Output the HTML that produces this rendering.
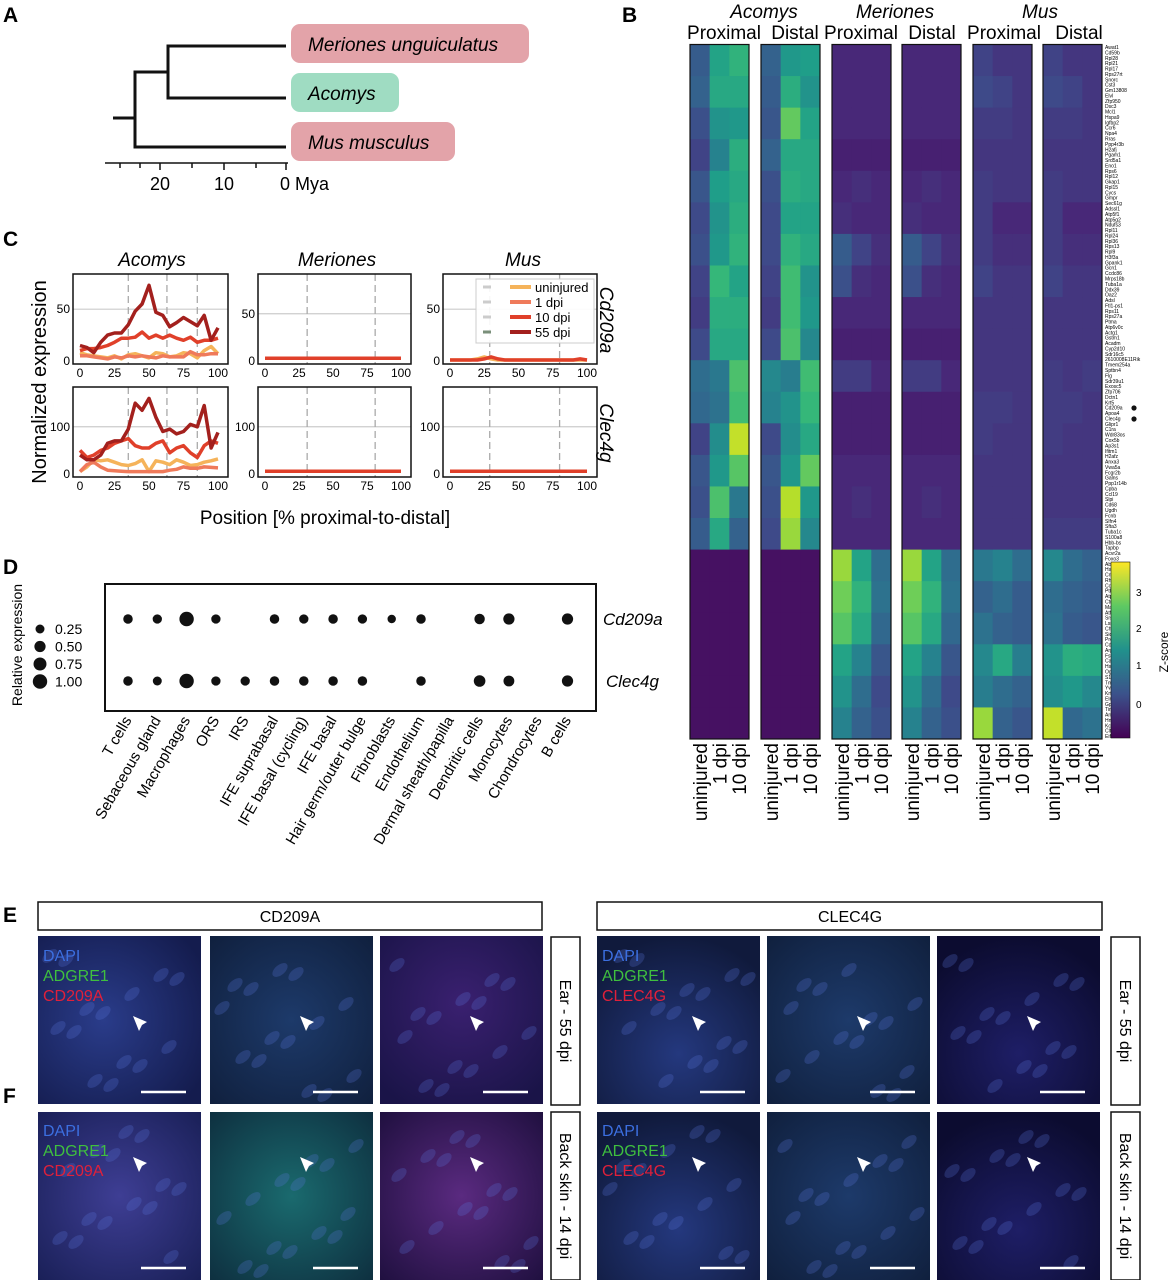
<!DOCTYPE html>
<html><head><meta charset="utf-8"><style>
html,body{margin:0;padding:0;background:#fff}
svg{display:block;font-family:"Liberation Sans",sans-serif}
</style></head><body>
<svg id="fig" width="1176" height="1280" viewBox="0 0 1176 1280" xmlns="http://www.w3.org/2000/svg">
<defs>
<radialGradient id="gE1" cx="0.4" cy="0.5" r="0.7"><stop offset="0" stop-color="#2a3c8a"/><stop offset="1" stop-color="#141c4e"/></radialGradient>
<radialGradient id="gE2" cx="0.5" cy="0.5" r="0.7"><stop offset="0" stop-color="#1d3a6a"/><stop offset="1" stop-color="#10203e"/></radialGradient>
<radialGradient id="gE3" cx="0.5" cy="0.4" r="0.7"><stop offset="0" stop-color="#3a2070"/><stop offset="1" stop-color="#1a1448"/></radialGradient>
<radialGradient id="gF1" cx="0.5" cy="0.5" r="0.7"><stop offset="0" stop-color="#3e3e94"/><stop offset="1" stop-color="#1a2058"/></radialGradient>
<radialGradient id="gF2" cx="0.5" cy="0.5" r="0.7"><stop offset="0" stop-color="#1a6a6e"/><stop offset="1" stop-color="#0e3040"/></radialGradient>
<radialGradient id="gF3" cx="0.5" cy="0.5" r="0.7"><stop offset="0" stop-color="#5a2a80"/><stop offset="1" stop-color="#201040"/></radialGradient>
<radialGradient id="gR1" cx="0.5" cy="0.7" r="0.7"><stop offset="0" stop-color="#24387e"/><stop offset="1" stop-color="#101a3c"/></radialGradient>
<radialGradient id="gR3" cx="0.5" cy="0.7" r="0.7"><stop offset="0" stop-color="#1e1e66"/><stop offset="1" stop-color="#0c0c30"/></radialGradient>
<linearGradient id="cbar" x1="0" y1="1" x2="0" y2="0">
<stop offset="0" stop-color="#440154"/><stop offset="0.25" stop-color="#3b528b"/><stop offset="0.5" stop-color="#21918c"/><stop offset="0.75" stop-color="#5ec962"/><stop offset="1" stop-color="#fde725"/></linearGradient>
</defs>

<g font-weight="bold" font-size="21">
<text x="3" y="22">A</text>
<text x="622" y="22">B</text>
<text x="3" y="246">C</text>
<text x="3" y="574">D</text>
<text x="3" y="922">E</text>
<text x="3" y="1103">F</text>
</g>

<g stroke="#111" stroke-width="3" fill="none">
<path d="M168 46 H286 M168 98 H286 M168 44.5 V99.5 M135 72 H168 M135 147 H286 M135 70.5 V148.5 M113 118 H135"/>
</g>
<rect x="291" y="24" width="238" height="39" rx="9" fill="#e3a3a9"/>
<text x="308" y="51" font-size="19" font-style="italic">Meriones unguiculatus</text>
<rect x="291" y="73" width="108" height="39" rx="9" fill="#9fdcc2"/>
<text x="308" y="100" font-size="19" font-style="italic">Acomys</text>
<rect x="291" y="122" width="164" height="39" rx="9" fill="#e3a3a9"/>
<text x="308" y="149" font-size="19" font-style="italic">Mus musculus</text>
<g stroke="#111" stroke-width="1.5">
<line x1="105" y1="163" x2="288" y2="163"/>
<line x1="120" y1="163" x2="120" y2="168"/><line x1="140" y1="163" x2="140" y2="168"/><line x1="160" y1="163" x2="160" y2="170"/><line x1="192" y1="163" x2="192" y2="168"/><line x1="224" y1="163" x2="224" y2="170"/><line x1="256" y1="163" x2="256" y2="168"/><line x1="286" y1="163" x2="286" y2="170"/>
</g>
<g font-size="18">
<text x="160" y="190" text-anchor="middle">20</text><text x="224" y="190" text-anchor="middle">10</text><text x="280" y="190">0 Mya</text>
</g>

<g font-size="19" text-anchor="middle">
<text x="764" y="18" font-style="italic">Acomys</text>
<text x="895" y="18" font-style="italic">Meriones</text>
<text x="1040" y="18" font-style="italic">Mus</text>
<text x="724" y="39">Proximal</text><text x="795" y="39">Distal</text>
<text x="861" y="39">Proximal</text><text x="932" y="39">Distal</text>
<text x="1004" y="39">Proximal</text><text x="1079" y="39">Distal</text>
</g>
<g id="heatmap"></g>
<g id="genes" font-size="5"></g>
<circle cx="1134" cy="408" r="2.6" fill="#111"/>
<circle cx="1134" cy="419" r="2.6" fill="#111"/>
<rect x="1111" y="562" width="19" height="176" fill="url(#cbar)" stroke="#111" stroke-width="0.6"/>
<g font-size="10">
<text x="1136" y="596">3</text><text x="1136" y="632">2</text><text x="1136" y="669">1</text><text x="1136" y="708">0</text>
</g>
<text transform="translate(1168,652) rotate(-90)" font-size="12" text-anchor="middle">Z-score</text>
<g id="hmx" font-size="19"></g>

<g id="lines"></g>
<text transform="translate(46,382) rotate(-90)" font-size="20" text-anchor="middle">Normalized expression</text>
<text x="325" y="524" font-size="19" text-anchor="middle">Position [% proximal-to-distal]</text>
<g font-size="19" font-style="italic" text-anchor="middle">
<text x="152" y="266">Acomys</text><text x="337" y="266">Meriones</text><text x="523" y="266">Mus</text>
</g>
<text transform="translate(600,320) rotate(90)" font-size="19" font-style="italic" text-anchor="middle">Cd209a</text>
<text transform="translate(600,433) rotate(90)" font-size="19" font-style="italic" text-anchor="middle">Clec4g</text>

<rect x="105" y="584" width="491" height="127" fill="#fff" stroke="#111" stroke-width="2"/>
<g id="dots"></g>
<text x="603" y="625" font-size="17" font-style="italic">Cd209a</text>
<text x="606" y="687" font-size="17" font-style="italic">Clec4g</text>
<text transform="translate(22,645) rotate(-90)" font-size="14" text-anchor="middle">Relative expression</text>
<g id="dotlegend" font-size="14"></g>
<g id="cellLabels" font-size="15"></g>

<rect x="38" y="902" width="504" height="28" fill="#fff" stroke="#111" stroke-width="1.5"/>
<text x="290" y="922" font-size="16" text-anchor="middle">CD209A</text>
<rect x="597" y="902" width="505" height="28" fill="#fff" stroke="#111" stroke-width="1.5"/>
<text x="850" y="922" font-size="16" text-anchor="middle">CLEC4G</text>
<g id="micro"></g>
</svg>
<script>
const acoProxU=[0.5,0.6,0.3,0.1,0.4,0.2,0.3,0.1,0.0,0.2,0.8,0.7,0.1,0.4,0.3,0.5,-0.6,-0.6,-0.6,-0.6,-0.6,-0.6];
const acoProx1=[1.8,1.9,1.5,1.2,1.7,1.5,1.6,2.2,2.0,1.9,1.0,0.9,1.4,1.6,2.4,1.9,-0.6,-0.6,-0.6,-0.6,-0.6,-0.6];
const acoProx10=[2.1,1.9,1.6,2.0,1.9,2.0,2.1,1.8,2.0,1.9,2.4,2.3,3.3,2.5,1.0,0.6,-0.6,-0.6,-0.6,-0.6,-0.6,-0.6];
const acoDistU=[0.6,0.5,0.4,0.6,0.3,0.2,0.2,0.1,0.0,0.2,1.3,1.2,0.2,0.4,0.3,0.2,-0.6,-0.6,-0.6,-0.6,-0.6,-0.6];
const acoDist1=[1.6,2.0,2.6,1.9,2.0,1.8,2.1,2.3,2.3,2.4,1.1,1.5,1.4,1.6,3.2,3.0,-0.6,-0.6,-0.6,-0.6,-0.6,-0.6];
const acoDist10=[1.7,1.5,1.8,1.9,1.9,1.8,1.9,1.5,1.6,1.3,2.3,2.2,1.9,2.6,1.6,1.3,-0.6,-0.6,-0.6,-0.6,-0.6,-0.6];
const merProxU=[-0.3,-0.3,-0.3,-0.4,-0.3,-0.2,0.5,0.3,-0.3,-0.4,0.0,-0.4,-0.4,-0.3,-0.3,-0.3,3.0,2.7,2.5,1.8,1.5,1.2];
const merProx1=[-0.3,-0.3,-0.3,-0.4,-0.2,-0.3,0.1,-0.2,-0.3,-0.4,0.0,-0.4,-0.4,-0.3,-0.2,-0.3,1.8,2.1,1.9,1.2,0.8,0.6];
const merProx10=[-0.3,-0.3,-0.3,-0.4,-0.3,-0.3,-0.2,-0.3,-0.3,-0.4,-0.3,-0.4,-0.4,-0.3,-0.3,-0.3,0.8,0.9,0.7,0.4,0.2,0.3];
const merDistU=[-0.3,-0.3,-0.3,-0.4,-0.3,-0.2,0.5,0.3,-0.3,-0.4,0.0,-0.4,-0.4,-0.3,-0.3,-0.3,3.0,2.7,2.5,1.8,1.5,1.2];
const merDist1=[-0.3,-0.3,-0.3,-0.4,-0.2,-0.3,0.1,-0.2,-0.3,-0.4,0.0,-0.4,-0.4,-0.3,-0.2,-0.3,1.8,2.1,1.9,1.2,0.8,0.6];
const merDist10=[-0.3,-0.3,-0.3,-0.4,-0.3,-0.3,-0.2,-0.3,-0.3,-0.4,-0.3,-0.4,-0.4,-0.3,-0.3,-0.3,0.8,0.9,0.7,0.4,0.2,0.3];
const musProxU=[0.1,0.2,0.0,-0.1,0.0,0.0,0.0,0.1,-0.1,-0.1,-0.1,0.0,0.0,-0.1,-0.1,-0.1,1.0,0.6,0.9,1.3,1.1,3.0];
const musProx1=[-0.1,0.1,0.0,-0.1,-0.1,-0.3,-0.2,-0.1,-0.1,-0.1,-0.1,0.0,-0.1,-0.1,-0.1,-0.1,1.2,0.8,0.6,1.9,0.8,0.6];
const musProx10=[-0.1,-0.1,-0.1,-0.1,-0.1,-0.3,-0.2,-0.1,-0.1,-0.1,-0.1,-0.1,-0.1,-0.1,-0.1,-0.1,0.8,0.5,0.5,1.1,0.6,0.4];
const musDistU=[0.1,0.2,0.0,-0.1,0.0,0.0,0.0,0.1,-0.1,-0.1,0.0,0.0,0.0,-0.1,-0.1,0.0,1.3,0.8,0.9,1.5,1.4,3.3];
const musDist1=[-0.1,0.1,0.0,-0.1,-0.1,-0.3,-0.2,-0.1,-0.1,-0.1,-0.1,0.0,-0.1,-0.1,-0.1,0.0,0.8,0.6,0.5,2.0,1.6,0.7];
const musDist10=[-0.1,-0.1,-0.1,-0.1,-0.1,-0.3,-0.2,-0.1,-0.1,-0.1,0.0,-0.1,-0.1,-0.1,-0.1,0.0,0.6,0.5,0.4,1.9,1.3,0.9];
const conditions=['uninjured','1 dpi','10 dpi'];
const genes=['Awat1','Cd59b','Rpl28','Rpl21','Rpl17','Rps27rt','Snorc','Cst3','Gm13808','Elvl','Zfp950','Dsc3','Mcl1','Hspa9','Igfbp2','Ccr6','Npa4','Rras','Ppp4r3b','H2afj','Pgam1','Srd5a1','Eno1','Rps6','Rpl12','Gkap1','Rpl15','Cycs','Gmpr','Sec61g','Adssl1','Atp5f1','Atp5g2','Ndufs3','Rpl11','Rpl24','Rpl36','Rps13','Rpl9','H3f3a','Gpank1','Gcn1','Ccdc86','Mrps18b','Tuba1a','Ddx39','Oaz2','Adsl','Ftl1-ps1','Rps11','Rps27a','Ptma','Atp6v0c','Actg1','Gstm1','Acadm','Cyp2d10','Sdr16c5','2610008E11Rik','Tmem254a','Sptbn4','Flg','Sdr39u1','Exosc5','Zfp706','Dctn1','Krt5','Cd209a','Apoa4','Clec4g','Glipr1','C1ra','Wdr83os','Cox5b','Ap3s1','Ifitm1','H2afz','Anxa3','Vwa5a','Fcgr2b','Galns','Ppp1r14b','Cpba','Ccl19','Slpi','Cd68','Ugdh','Fcnb','Slfn4','Sfta3','Tuba1c','S100a8','Hbb-bs','Tapbp','Acvr2a','Foxo3','Abcd3','Hsdl2','Cnbp','Rhoa','Ccnk','Ptbp1','Atp6v1b2','Ctnna1','Mat2a','Atf2','Srsf11','Lsm14a','Chmp4b','Sidt2','Prelp','Cdc42','Arpc5','Fstl1','Cavin3','Hsp90ab1','Ogdh','S100a14','Tmsb4x','Ywhab','Krt80','Eln','Gpx3','Timp3','Anapc2','Hmgcs1','Kctd15','Cltc','Eif4h'];

const positions=[0,5,10,15,20,25,30,35,40,45,50,55,60,65,70,75,80,85,90,95,100];
const seriesNames=['uninjured','1 dpi','10 dpi','55 dpi'];
const acoCdU=[8,6,5,4,3,5,2,6,7,5,3,8,7,4,5,8,7,3,10,14,7];
const acoCd1=[5,5,4,3,2,4,3,5,4,5,4,3,5,4,4,4,9,6,6,7,7];
const acoCd10=[10,12,12,13,15,18,22,22,23,28,22,25,22,25,22,20,23,18,20,20,22];
const acoCd55=[15,13,8,18,25,27,27,35,48,55,73,47,44,33,37,42,38,34,44,20,32];
const acoClU=[5,15,30,28,30,25,20,18,22,30,5,28,25,20,30,25,18,20,25,28,32];
const acoCl1=[5,20,25,15,8,7,6,5,5,5,5,5,5,8,10,15,12,12,15,14,13];
const acoCl10=[50,35,40,50,55,65,70,75,60,55,55,65,70,45,55,60,45,35,60,70,65];
const acoCl55=[40,30,30,40,65,70,70,95,150,135,160,120,90,95,85,90,105,100,145,55,88];
const merCd=[3,3,3,3,3,3,3,3,3,3,3,3,3,3,3,3,3,3,3,3,3];
const merCl=[6,6,6,6,6,6,6,6,6,6,6,6,6,6,6,6,6,6,6,6,6];
const musCdU=[1,1,1,1,2,4,2,1,1,1,1,1,1,1,1,1,1,1,1,1,1];
const musCd10=[1,1,1,1,1,2,4,2,1,1,1,1,1,1,1,1,1,1,1,2,1];
const musCl=[6,6,6,6,6,6,6,6,6,6,6,6,6,6,6,6,6,6,6,6,6];

const cellTypes=['T cells','Sebaceous gland','Macrophages','ORS','IRS','IFE suprabasal','IFE basal (cycling)','IFE basal','Hair germ/outer bulge','Fibroblasts','Endothelium','Dermal sheath/papilla','Dendritic cells','Monocytes','Chondrocytes','B cells'];
const relCd209a=[0.3,0.28,1.0,0.28,0,0.3,0.28,0.3,0.28,0.2,0.3,0,0.4,0.5,0,0.5];
const relClec4g=[0.3,0.25,1.0,0.28,0.28,0.3,0.3,0.3,0.3,0,0.3,0,0.55,0.45,0,0.5];
const legendVals=[0.25,0.5,0.75,1.0];

const NS='http://www.w3.org/2000/svg';
function el(tag,attrs,parent){const e=document.createElementNS(NS,tag);for(const k in attrs)e.setAttribute(k,attrs[k]);parent.appendChild(e);return e;}

const vstops=[[68,1,84],[72,40,120],[62,74,137],[49,104,142],[38,130,142],[31,158,137],[53,183,121],[110,206,88],[181,222,43],[253,231,37]];
function viridis(v){let t=(v+0.8)/4.5;t=Math.max(0,Math.min(1,t));const p=t*(vstops.length-1);const i=Math.min(Math.floor(p),vstops.length-2);const f=p-i;const a=vstops[i],b=vstops[i+1];return `rgb(${Math.round(a[0]+(b[0]-a[0])*f)},${Math.round(a[1]+(b[1]-a[1])*f)},${Math.round(a[2]+(b[2]-a[2])*f)})`;}

const hm=document.getElementById('heatmap');
const panels=[[acoProxU,acoProx1,acoProx10],[acoDistU,acoDist1,acoDist10],[merProxU,merProx1,merProx10],[merDistU,merDist1,merDist10],[musProxU,musProx1,musProx10],[musDistU,musDist1,musDist10]];
const panelX=[690,761,832,902,973,1043];
const panelW=59, hmTop=44.5, hmBot=739;
const nGroups=acoProxU.length;
const gh=(hmBot-hmTop)/nGroups;
const colW=panelW/3;
panels.forEach((cols,pi)=>{
  cols.forEach((vals,ci)=>{
    vals.forEach((v,gi)=>{
      const r=el('rect',{x:panelX[pi]+ci*colW,y:hmTop+gi*gh,width:colW+0.5,height:gh+0.5,fill:viridis(v)},hm);
      
      
    });
  });
  const fr=el('rect',{x:panelX[pi],y:hmTop,width:panelW,height:hmBot-hmTop,fill:'none',stroke:'#111','stroke-width':1.2},hm);
  
  
  conditions.forEach((c,ci)=>{
    const t=el('text',{transform:`translate(${panelX[pi]+ci*colW+colW/2+7},743) rotate(-90)`,'text-anchor':'end'},document.getElementById('hmx'));
    t.textContent=c;
    
    
  });
});
const gg=document.getElementById('genes');
const rh=(hmBot-hmTop)/genes.length;
genes.forEach((g,i)=>{
  const t=el('text',{x:1105,y:hmTop+rh*(i+0.5)+1.8},gg);
  t.textContent=g;
  
  
});

const lg=document.getElementById('lines');
const colors=['#f5b35a','#ef7a5a','#e0402a','#a3201d'];
const frames=[
 {x:73,y:274,w:155,h:90,ymax:82,ticks:[0,50],series:[acoCdU,acoCd1,acoCd10,acoCd55],vl:[35,63,85]},
 {x:258,y:274,w:153,h:90,ymax:90,ticks:[0,50],series:[merCd],sc:[2],vl:[31,81]},
 {x:443,y:274,w:154,h:90,ymax:82,ticks:[0,50],series:[musCdU,musCd10],sc:[0,2],vl:[29,80],legend:true},
 {x:73,y:387,w:155,h:90,ymax:180,ticks:[0,100],series:[acoClU,acoCl1,acoCl10,acoCl55],vl:[35,63,85]},
 {x:258,y:387,w:153,h:90,ymax:180,ticks:[0,100],series:[merCl],sc:[2],vl:[31,81]},
 {x:443,y:387,w:154,h:90,ymax:180,ticks:[0,100],series:[musCl],sc:[2],vl:[29,80]}
];
frames.forEach(f=>{
  const xs=v=>f.x+7+(v/100)*(f.w-17);
  const ys=v=>f.y+f.h-3-(v/f.ymax)*(f.h-5);
  f.ticks.forEach(t=>{
    if(t>0){const l=el('line',{x1:f.x,x2:f.x+f.w,y1:ys(t),y2:ys(t),stroke:'#ccc','stroke-width':1.2},lg);}
    const tx=el('text',{x:f.x-3,y:ys(t)+4,'font-size':12,'text-anchor':'end'},lg);tx.textContent=t;
    
  });
  f.vl.forEach(v=>{const l=el('line',{x1:xs(v),x2:xs(v),y1:f.y,y2:f.y+f.h,stroke:'#aaa','stroke-width':1.3,'stroke-dasharray':'7,4'},lg);});
  [0,25,50,75,100].forEach(t=>{const tx=el('text',{x:xs(t),y:f.y+f.h+13,'font-size':12,'text-anchor':'middle'},lg);tx.textContent=t;});
  f.series.forEach((s,si)=>{
    const c=colors[f.sc?f.sc[si]:si];
    const d=s.map((v,i)=>(i?'L':'M')+xs(positions[i]).toFixed(1)+' '+ys(v).toFixed(1)).join(' ');
    const p=el('path',{d:d,fill:'none',stroke:c,'stroke-width':3.5,'stroke-linejoin':'round'},lg);
    
    
  });
  const fr=el('rect',{x:f.x,y:f.y,width:f.w,height:f.h,fill:'none',stroke:'#111','stroke-width':1.5},lg);
  
  if(f.legend){
    const lb=el('rect',{x:f.x+33,y:f.y+5,width:118,height:64,fill:'#fff','fill-opacity':0.9,stroke:'#ccc'},lg);
    
    seriesNames.forEach((n,i)=>{
      const yy=f.y+13+i*15;
      el('line',{x1:f.x+40,x2:f.x+48,y1:yy,y2:yy,stroke:i==3?'#7a8f7a':'#ccc','stroke-width':3},lg);
      const ln=el('line',{x1:f.x+67,x2:f.x+88,y1:yy,y2:yy,stroke:colors[i],'stroke-width':4},lg);
      
      const tx=el('text',{x:f.x+92,y:yy+5,'font-size':13},lg);tx.textContent=n;
      
    });
  }
});

const dg=document.getElementById('dots');
const dx=i=>128+i*29.3;
const rad=v=>v>0?1.8+Math.sqrt(v)*5.4:0;
[[relCd209a,619],[relClec4g,681]].forEach(([arr,yy])=>{
  arr.forEach((v,i)=>{if(v>0){const c=el('circle',{cx:dx(i),cy:yy,r:rad(v),fill:'#111'},dg);}});
});
const cl=document.getElementById('cellLabels');
cellTypes.forEach((n,i)=>{
  const t=el('text',{transform:`translate(${dx(i)+4},720) rotate(-60)`,'text-anchor':'end'},cl);
  t.textContent=n;
  
  
});
const dl=document.getElementById('dotlegend');
legendVals.forEach((v,i)=>{
  const yy=629+i*17.5;
  const c=el('circle',{cx:40,cy:yy,r:rad(v),fill:'#111'},dl);
  
  const t=el('text',{x:55,y:yy+5},dl);t.textContent=v.toFixed(2);
  
});

const mg=document.getElementById('micro');
const tiles=[
 [38,936,'gE1'],[210,936,'gE2'],[380,936,'gE3'],[38,1112,'gF1'],[210,1112,'gF2'],[380,1112,'gF3'],
 [597,936,'gR1'],[767,936,'gE2'],[937,936,'gR3'],[597,1112,'gR1'],[767,1112,'gE2'],[937,1112,'gR3']];
const tileW=163,tileH=168;
tiles.forEach(([x,y,g],i)=>{
  const r=el('rect',{x:x,y:y,width:tileW,height:tileH,fill:`url(#${g})`},mg);
  
  for(let k=0;k<14;k++){
    const ex=x+12+((k*37+i*13)%140), ey=y+20+((k*53+i*29)%140);
    el('ellipse',{cx:ex,cy:ey,rx:9,ry:5,transform:`rotate(-40 ${ex} ${ey})`,fill:'#5a78e0','fill-opacity':0.25},mg);
  }
  el('line',{x1:x+tileW-60,x2:x+tileW-15,y1:y+tileH-12,y2:y+tileH-12,stroke:'#fff','stroke-width':2.5},mg);
  const ax=x+(i%3===0?95:90), ay=y+(y<1100?80:45);
  el('path',{d:`M${ax} ${ay} l14 6 l-5 3 l-3 6 z`,fill:'#fff'},mg);
});
function lbl(x,y,lines){lines.forEach(([t,c],i)=>{const e=el('text',{x:x,y:y+i*20,'font-size':16,fill:c},mg);e.textContent=t;});}
lbl(43,961,[['DAPI','#3c6fe0'],['ADGRE1','#3fbf3f'],['CD209A','#e0203a']]);
lbl(43,1136,[['DAPI','#3c6fe0'],['ADGRE1','#3fbf3f'],['CD209A','#e0203a']]);
lbl(602,961,[['DAPI','#3c6fe0'],['ADGRE1','#3fbf3f'],['CLEC4G','#e0203a']]);
lbl(602,1136,[['DAPI','#3c6fe0'],['ADGRE1','#3fbf3f'],['CLEC4G','#e0203a']]);
[[551,937,'Ear - 55 dpi'],[551,1112,'Back skin - 14 dpi'],[1111,937,'Ear - 55 dpi'],[1111,1112,'Back skin - 14 dpi']].forEach(([x,y,t])=>{
  const b=el('rect',{x:x,y:y,width:29,height:168,fill:'#fff',stroke:'#111','stroke-width':1.5},mg);
  
  const e=el('text',{transform:`translate(${x+9},${y+84}) rotate(90)`,'font-size':16,'text-anchor':'middle'},mg);
  e.textContent=t;
  
});
</script>
</body></html>
